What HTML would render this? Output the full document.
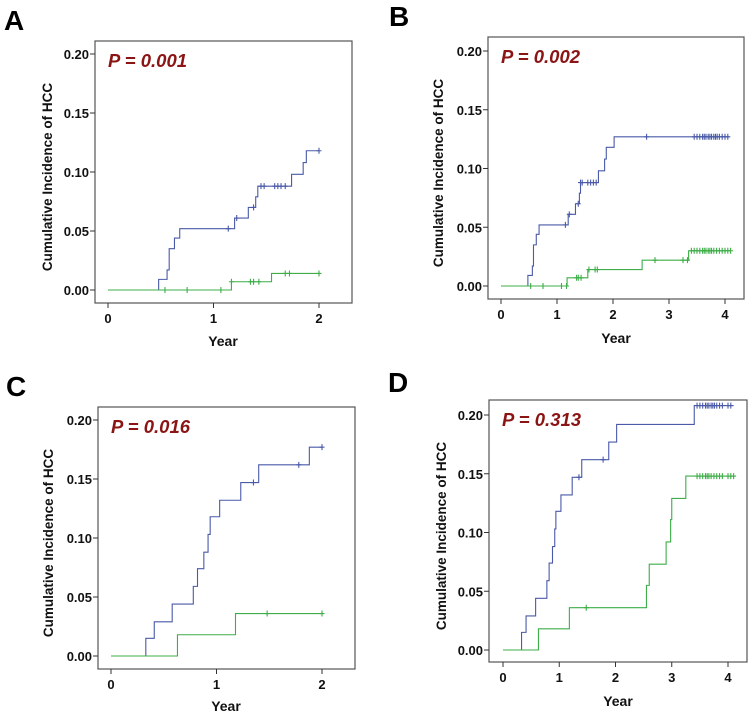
<!DOCTYPE html>
<html><head><meta charset="utf-8">
<style>
html,body{margin:0;padding:0;background:#fff;}
svg{display:block;font-family:"Liberation Sans",Arial,sans-serif;}
</style></head>
<body>
<svg id="fig" width="750" height="716" viewBox="0 0 750 716" xmlns="http://www.w3.org/2000/svg"></svg>
<script>
// Panel A data
const aBlueX=[0,0.48,0.56,0.58,0.63,0.68,1.20,1.33,1.40,1.42,1.74,1.85,1.88,2.0];
const aBlueY=[0,0.009,0.017,0.035,0.044,0.052,0.061,0.070,0.079,0.088,0.098,0.108,0.118,0.118];
const aBlueC=[1.14,1.22,1.38,1.45,1.48,1.58,1.61,1.64,1.68,2.0];
const aGreenX=[0,1.17,1.55,2.0];
const aGreenY=[0,0.007,0.014,0.014];
const aGreenC=[0.54,0.75,1.07,1.17,1.35,1.38,1.43,1.68,1.72,2.0];
// Panel B data
const bBlueX=[0,0.48,0.56,0.58,0.63,0.68,1.20,1.33,1.40,1.42,1.74,1.85,1.88,2.02,4.08];
const bBlueY=[0,0.009,0.017,0.035,0.044,0.052,0.061,0.070,0.079,0.088,0.098,0.108,0.118,0.127,0.127];
const bBlueC=[1.15,1.22,1.38,1.42,1.45,1.55,1.60,1.65,1.70,2.6,3.45,3.5,3.55,3.6,3.63,3.66,3.7,3.73,3.76,3.8,3.83,3.86,3.9,3.95,4.0,4.05];
const bGreenX=[0,1.18,1.55,2.52,3.35,4.1];
const bGreenY=[0,0.007,0.014,0.022,0.030,0.030];
const bGreenC=[0.53,0.75,1.08,1.17,1.35,1.38,1.43,1.57,1.68,1.72,2.75,3.25,3.33,3.4,3.45,3.5,3.55,3.6,3.63,3.66,3.7,3.73,3.76,3.8,3.85,3.9,3.95,4.0,4.05,4.1];
// Panel C data
const cBlueX=[0,0.33,0.41,0.58,0.78,0.82,0.88,0.92,0.94,1.03,1.23,1.40,1.88,2.0];
const cBlueY=[0,0.015,0.029,0.044,0.059,0.074,0.088,0.103,0.118,0.132,0.147,0.162,0.177,0.177];
const cBlueC=[1.35,1.78,2.0];
const cGreenX=[0,0.63,1.18,2.0];
const cGreenY=[0,0.018,0.036,0.036];
const cGreenC=[1.48,2.0];
// Panel D data
const dBlueX=[0,0.33,0.41,0.58,0.78,0.82,0.88,0.92,0.94,1.03,1.23,1.40,1.88,2.02,3.40,4.1];
const dBlueY=[0,0.015,0.029,0.044,0.059,0.074,0.088,0.103,0.118,0.132,0.147,0.162,0.177,0.192,0.208,0.208];
const dBlueC=[1.35,1.78,3.45,3.5,3.55,3.6,3.63,3.66,3.7,3.73,3.76,3.8,3.85,3.9,4.0,4.05];
const dGreenX=[0,0.63,1.18,2.55,2.6,2.9,2.98,3.0,3.25,4.1];
const dGreenY=[0,0.018,0.036,0.055,0.073,0.092,0.111,0.129,0.148,0.148];
const dGreenC=[1.48,3.45,3.5,3.55,3.6,3.63,3.66,3.7,3.75,3.8,3.85,3.9,4.0,4.05,4.1];
const yTicks=[0,0.05,0.10,0.15,0.20];
const yTickLabels=["0.00","0.05","0.10","0.15","0.20"];
const xTicks2=[0,1,2];
const xTicks4=[0,1,2,3,4];
const pLabels=["P = 0.001","P = 0.002","P = 0.016","P = 0.313"];
const panelLetters=["A","B","C","D"];

const NS="http://www.w3.org/2000/svg";
const svg=document.getElementById('fig');
function mk(tag,attrs,parent){const e=document.createElementNS(NS,tag);for(const k in attrs)e.setAttribute(k,attrs[k]);(parent||svg).appendChild(e);return e;}

const panels=[
 {L:95,R:352,T:41,B:303,x0:108,x1:319,xmax:2,y0:290,y20:54,ylx:47,yx:223,yy:346,lx:4,ly:30,xt:xTicks2,series:[[aBlueX,aBlueY,aBlueC],[aGreenX,aGreenY,aGreenC]]},
 {L:488,R:744,T:37,B:299,x0:501,x1:725,xmax:4,y0:286,y20:51,ylx:438,yx:616,yy:343,lx:389,ly:26,xt:xTicks4,series:[[bBlueX,bBlueY,bBlueC],[bGreenX,bGreenY,bGreenC]]},
 {L:98,R:355,T:407,B:669,x0:111,x1:322,xmax:2,y0:656,y20:420,ylx:48,yx:226,yy:711,lx:6,ly:396,xt:xTicks2,series:[[cBlueX,cBlueY,cBlueC],[cGreenX,cGreenY,cGreenC]]},
 {L:489,R:747,T:400,B:662,x0:503,x1:728,xmax:4,y0:650,y20:415,ylx:441,yx:618,yy:706,lx:388,ly:392,xt:xTicks4,series:[[dBlueX,dBlueY,dBlueC],[dGreenX,dGreenY,dGreenC]]}
];
const colors=["#4a5aa8","#3dae48"];
const names=["blue","green"];

panels.forEach((p,i)=>{
  const g=mk('g',{});
  
  
  const sx=v=>p.x0+(p.x1-p.x0)*v/p.xmax;
  const sy=v=>p.y0+(p.y20-p.y0)*v/0.20;
  const lt=mk('text',{x:p.lx,y:p.ly,'font-size':28,'font-weight':'bold',fill:'#000'},g);
  lt.textContent=panelLetters[i];
  
  
  const fr=mk('rect',{x:p.L,y:p.T,width:p.R-p.L,height:p.B-p.T,fill:'none',stroke:'#555','stroke-width':1.2},g);
  
  
  yTicks.forEach((t,k)=>{
    const y=sy(t);
    mk('line',{x1:p.L-5,x2:p.L,y1:y,y2:y,stroke:'#333','stroke-width':1},g);
    const tx=mk('text',{x:p.L-6,y:y+5,'font-size':13,'font-weight':'bold','text-anchor':'end',fill:'#111'},g);
    tx.textContent=yTickLabels[k];
    
    
  });
  p.xt.forEach(t=>{
    const x=sx(t);
    mk('line',{x1:x,x2:x,y1:p.B,y2:p.B+5,stroke:'#333','stroke-width':1},g);
    const tx=mk('text',{x:x,y:p.B+20,'font-size':13,'font-weight':'bold','text-anchor':'middle',fill:'#111'},g);
    tx.textContent=t;
    
    
  });
  const yl=mk('text',{x:0,y:0,'font-size':13.5,'font-weight':'bold','text-anchor':'middle',fill:'#111',transform:`translate(${p.ylx+5},${(p.T+p.B)/2+5}) rotate(-90)`},g);
  yl.textContent='Cumulative Incidence of HCC';
  
  
  const xl=mk('text',{x:p.yx,y:p.yy,'font-size':14,'font-weight':'bold','text-anchor':'middle',fill:'#111'},g);
  xl.textContent='Year';
  
  
  const pl=mk('text',{x:p.L+13,y:p.T+26,'font-size':18.5,'font-weight':'bold','font-style':'italic',fill:'#8b1414'},g);
  pl.textContent=pLabels[i];
  
  
  p.series.forEach((s,j)=>{
    const [xs,ys,cs]=s;
    let d='M'+sx(xs[0])+','+sy(ys[0]);
    for(let k=1;k<xs.length;k++){d+=' H'+sx(xs[k])+' V'+sy(ys[k]);}
    const path=mk('path',{d:d,fill:'none',stroke:colors[j],'stroke-width':1.1},g);
    
    
    cs.forEach(c=>{
      let yv=ys[0];
      for(let k=0;k<xs.length;k++){if(xs[k]<=c+1e-9)yv=ys[k];}
      const x=sx(c),y=sy(yv);
      const m=mk('path',{d:`M${x-2.5},${y} H${x+2.5} M${x},${y-3} V${y+3}`,stroke:colors[j],'stroke-width':1.1},g);
      
      
    });
  });
});
</script>
</body></html>
